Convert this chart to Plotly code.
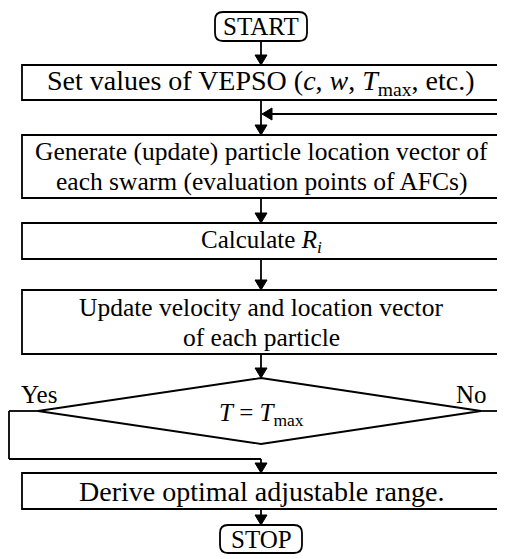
import plotly.graph_objects as go

# ---- content of the flowchart ----
node_lines = [
    ["START"],
    ["Set values of VEPSO (<i>c</i>, <i>w</i>, <i>T</i><sub>max</sub>, etc.)"],
    ["Generate (update) particle location vector of",
     "each swarm (evaluation points of AFCs)"],
    ["Calculate <i>R<sub>i</sub></i>"],
    ["Update velocity and location vector", "of each particle"],
    ["<i>T</i> = <i>T</i><sub>max</sub>"],
    ["Derive optimal adjustable range."],
    ["STOP"],
]
node_kinds = ["terminal", "process", "process", "process", "process",
              "decision", "process", "terminal"]
branch_labels = ["Yes", "No"]

# ---- layout / styling (page pixel space) ----
W, H = 505, 559
PAGE_MARGIN = 8          # default body margin of the written html page
CX = 261
BOX_X0, BOX_X1 = 22, 499
tops = [12, 65, 135, 223, 290, 378, 473, 525]
bottoms = [41, 100, 198, 259, 354, 444, 509, 553]
term_half = [46, None, None, None, None, None, None, 41]
font_sizes = [25, 28, 25.5, 25, 25.5, 25, 28, 25]
diam_left, diam_right = 38, 481
loop_x = 9
loop_y = 459
feedback_y = 114
LINE_GAP = 30
LW = 1.8
FONT = "Liberation Serif, Times New Roman, serif"

shapes = []
annotations = []


def line(x0, y0, x1, y1):
    shapes.append(dict(type="line", x0=x0, y0=y0, x1=x1, y1=y1,
                       line=dict(color="black", width=LW)))


def arrow_head(x, y, direction="down", hw=6, hl=10):
    if direction == "down":
        p = f"M{x},{y} L{x-hw},{y-hl} L{x+hw},{y-hl} Z"
    else:  # left
        p = f"M{x},{y} L{x+hl},{y-hw} L{x+hl},{y+hw} Z"
    shapes.append(dict(type="path", path=p, fillcolor="black",
                       line=dict(color="black", width=1)))


def rounded(x0, y0, x1, y1, r=8):
    p = (f"M{x0+r},{y0} L{x1-r},{y0} Q{x1},{y0} {x1},{y0+r} "
         f"L{x1},{y1-r} Q{x1},{y1} {x1-r},{y1} L{x0+r},{y1} "
         f"Q{x0},{y1} {x0},{y1-r} L{x0},{y0+r} Q{x0},{y0} {x0+r},{y0} Z")
    shapes.append(dict(type="path", path=p, fillcolor="white",
                       line=dict(color="black", width=LW)))


for i, (lines, kind) in enumerate(zip(node_lines, node_kinds)):
    t, b = tops[i], bottoms[i]
    ymid = (t + b) / 2
    if kind == "terminal":
        rounded(CX - term_half[i], t, CX + term_half[i], b)
    elif kind == "process":
        shapes.append(dict(type="rect", x0=BOX_X0, x1=BOX_X1, y0=t, y1=b,
                           fillcolor="white",
                           line=dict(color="black", width=LW)))
    else:
        p = (f"M{CX},{t} L{diam_right},{ymid} L{CX},{b} "
             f"L{diam_left},{ymid} Z")
        shapes.append(dict(type="path", path=p, fillcolor="white",
                           line=dict(color="black", width=LW)))
    n = len(lines)
    for k, txt in enumerate(lines):
        y = ymid + (k - (n - 1) / 2) * LINE_GAP
        if kind == "decision":
            y += 3
        annotations.append(dict(x=CX, y=y, xref="x", yref="y", text=txt,
                                showarrow=False,
                                font=dict(family=FONT, size=font_sizes[i],
                                          color="black"),
                                xanchor="center", yanchor="middle"))

# straight connectors between consecutive nodes (except after decision)
for i in range(len(node_lines) - 1):
    if node_kinds[i] == "decision":
        continue
    line(CX, bottoms[i], CX, tops[i + 1] - 8)
    arrow_head(CX, tops[i + 1])

# feedback loop entering between box 1 and box 2
line(W + 5, feedback_y, CX + 8, feedback_y)
arrow_head(CX + 1, feedback_y, "left")

# decision branches
d = node_kinds.index("decision")
ymid_d = (tops[d] + bottoms[d]) / 2
line(diam_left, ymid_d, loop_x, ymid_d)
line(loop_x, ymid_d, loop_x, loop_y)
line(loop_x, loop_y, CX, loop_y)
line(CX, loop_y, CX, tops[d + 1] - 8)
arrow_head(CX, tops[d + 1])
line(diam_right, ymid_d, W + 5, ymid_d)

annotations.append(dict(x=19, y=394, xref="x", yref="y", text=branch_labels[0],
                        showarrow=False, xanchor="left", yanchor="middle",
                        font=dict(family=FONT, size=25, color="black")))
annotations.append(dict(x=489, y=394, xref="x", yref="y", text=branch_labels[1],
                        showarrow=False, xanchor="right", yanchor="middle",
                        font=dict(family=FONT, size=25, color="black")))

fig = go.Figure()
fig.update_layout(
    width=W - PAGE_MARGIN, height=H - PAGE_MARGIN,
    margin=dict(l=0, r=0, t=0, b=0),
    paper_bgcolor="white", plot_bgcolor="white",
    xaxis=dict(range=[PAGE_MARGIN, W], visible=False, fixedrange=True),
    yaxis=dict(range=[H, PAGE_MARGIN], visible=False, fixedrange=True),
    shapes=shapes, annotations=annotations, showlegend=False,
)
fig.write_html("out.html")
